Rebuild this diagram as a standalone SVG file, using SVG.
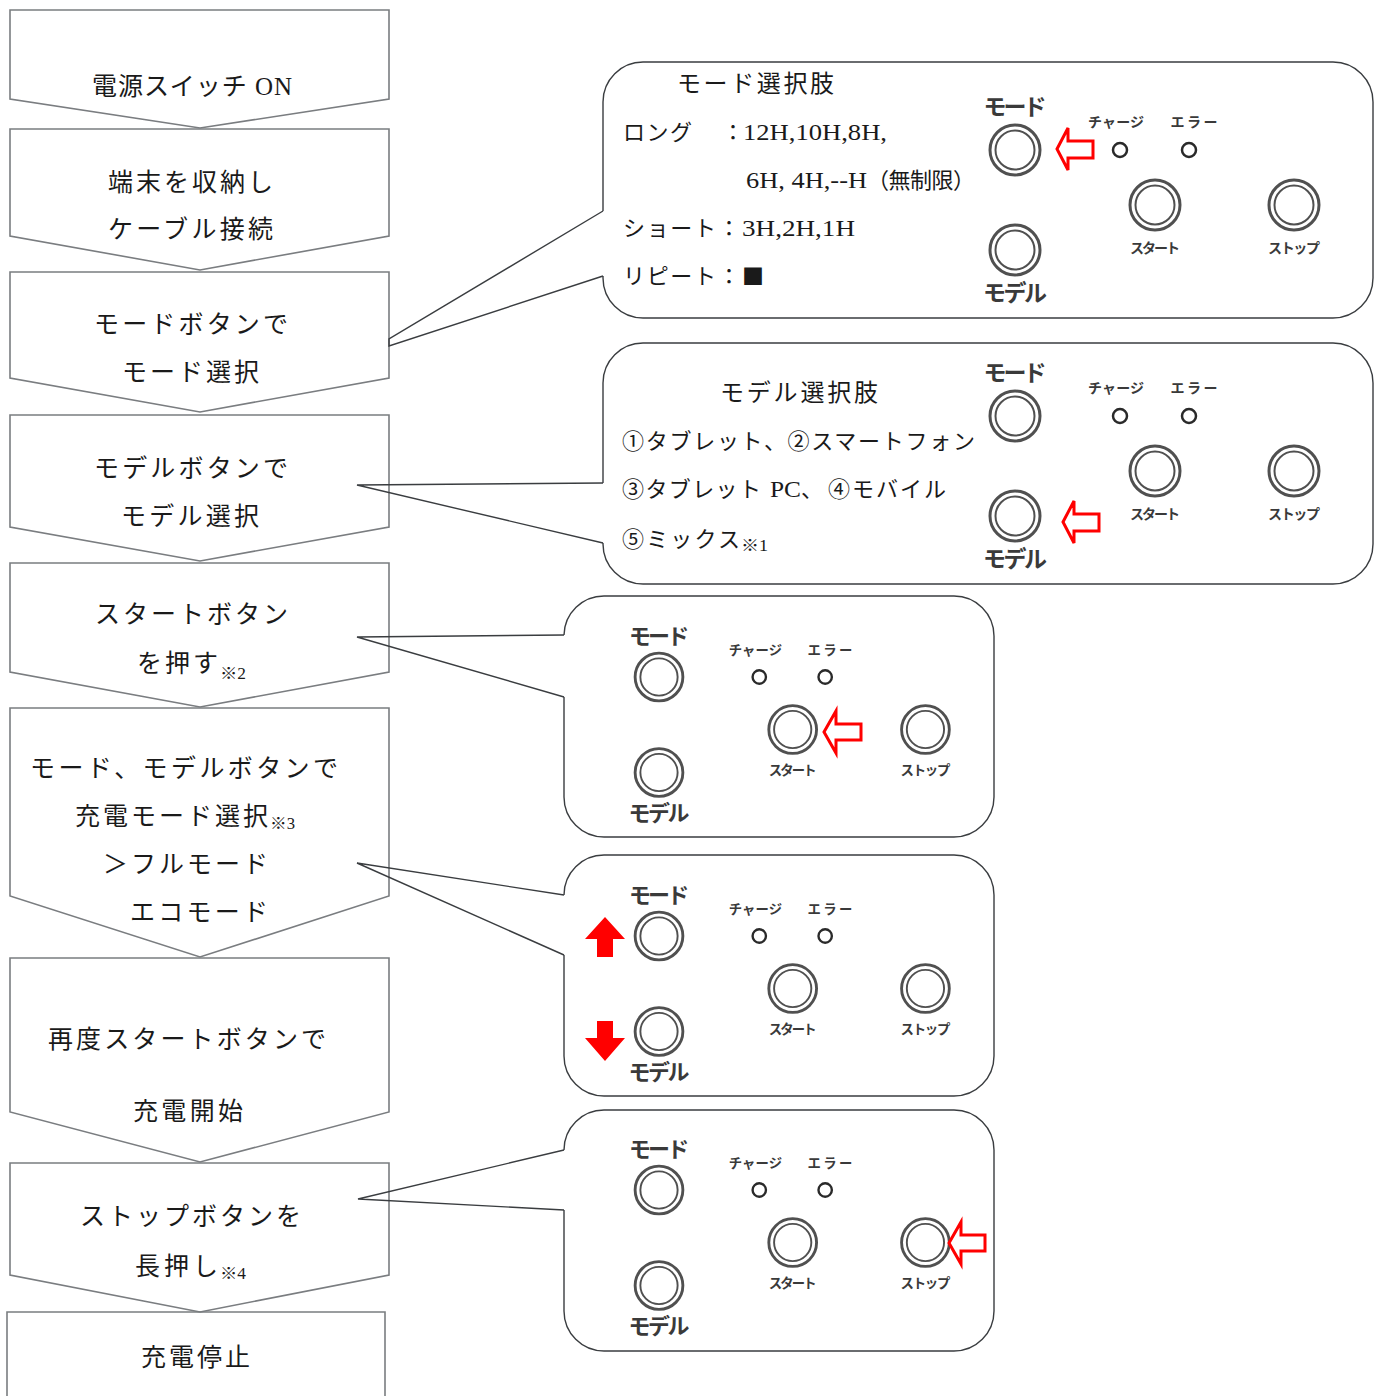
<svg xmlns="http://www.w3.org/2000/svg" width="1374" height="1396" viewBox="0 0 1374 1396">
<style>
.step{fill:none;stroke:#7a7d80;stroke-width:1.6}
.co{fill:none;stroke:#3a3d40;stroke-width:1.4}
.t{font-family:"Liberation Serif","Noto Sans CJK JP",serif;font-size:25px;fill:#1a1a1a}
.c{font-family:"Liberation Serif","Noto Sans CJK JP",serif;font-size:22px;fill:#1a1a1a}
.ct{font-size:24px}
.sub{font-size:16px}
.lat{font-size:24px}
.sq{font-family:"Noto Sans CJK JP",sans-serif;font-size:22px}
.pl{font-family:"Noto Sans CJK JP",sans-serif;font-weight:700;font-size:23px;fill:#3a3a3a;text-anchor:middle}
.ps{font-family:"Noto Sans CJK JP",sans-serif;font-weight:700;font-size:14px;fill:#3a3a3a;text-anchor:middle}
.ro{fill:none;stroke:#505050;stroke-width:3}
.ri{fill:none;stroke:#505050;stroke-width:2}
.led{fill:none;stroke:#2a2a2a;stroke-width:2.5}
.ra{fill:#fff;stroke:#f00;stroke-width:3}
.rs{fill:#f00;stroke:none}
</style>

<!-- Step nodes -->
<g id="step1"><polygon class="step" points="10,10 389,10 389,99 200,128 10,99"/>
<text class="t" x="92" y="95" textLength="200">電源スイッチ ON</text></g>
<g id="step2"><polygon class="step" points="10,129 389,129 389,236 200,270 10,236"/>
<text class="t" x="108" y="191" textLength="165">端末を収納し</text>
<text class="t" x="108" y="238" textLength="165">ケーブル接続</text></g>
<g id="step3"><polygon class="step" points="10,272 389,272 389,378 200,412 10,378"/>
<text class="t" x="94" y="333" textLength="194">モードボタンで</text>
<text class="t" x="122" y="381" textLength="137">モード選択</text></g>
<g id="step4"><polygon class="step" points="10,415 389,415 389,527 200,561 10,527"/>
<text class="t" x="94" y="477" textLength="194">モデルボタンで</text>
<text class="t" x="121" y="525" textLength="138">モデル選択</text></g>
<g id="step5"><polygon class="step" points="10,563 389,563 389,672 200,707 10,672"/>
<text class="t" x="95" y="623" textLength="193">スタートボタン</text>
<text class="t" x="137" y="672" textLength="81">を押す</text>
<text class="t sub" x="220" y="679" textLength="26" lengthAdjust="spacingAndGlyphs">※2</text></g>
<g id="step6"><polygon class="step" points="10,708 389,708 389,896 200,957 10,896"/>
<text class="t" x="30" y="777" textLength="308">モード、モデルボタンで</text>
<text class="t" x="75" y="825" textLength="193">充電モード選択</text>
<text class="t sub" x="270" y="829" textLength="25" lengthAdjust="spacingAndGlyphs">※3</text>
<text class="t" x="103" y="873" textLength="165">＞フルモード</text>
<text class="t" x="130" y="921" textLength="138">エコモード</text></g>
<g id="step7"><polygon class="step" points="10,958 389,958 389,1112 200,1162 10,1112"/>
<text class="t" x="48" y="1048" textLength="278">再度スタートボタンで</text>
<text class="t" x="133" y="1120" textLength="110">充電開始</text></g>
<g id="step8"><polygon class="step" points="10,1163 389,1163 389,1275 200,1312 10,1275"/>
<text class="t" x="80" y="1225" textLength="221">ストップボタンを</text>
<text class="t" x="135" y="1275" textLength="83">長押し</text>
<text class="t sub" x="220" y="1279" textLength="26" lengthAdjust="spacingAndGlyphs">※4</text></g>
<g id="step9"><polyline class="step" points="7,1400 7,1312 385,1312 385,1400"/>
<text class="t" x="141" y="1366" textLength="109">充電停止</text></g>

<!-- Callout bodies -->
<g id="callout-mode">
<path class="co" d="M603,211 L603,102 A40,40 0 0 1 643,62 L1333,62 A40,40 0 0 1 1373,102 L1373,278 A40,40 0 0 1 1333,318 L643,318 A40,40 0 0 1 603,278 L603,276"/>
<text class="c ct" x="677" y="92" textLength="157">モード選択肢</text>
<text class="c" x="623" y="140" textLength="69">ロング</text>
<text class="c" x="722" y="140">：</text>
<text class="c lat" x="743" y="140" textLength="144" lengthAdjust="spacingAndGlyphs">12H,10H,8H,</text>
<text class="c lat" x="746" y="188" textLength="121" lengthAdjust="spacingAndGlyphs">6H, 4H,--H</text>
<text class="c" x="867" y="188" textLength="108">（無制限）</text>
<text class="c" x="623" y="236" textLength="93">ショート</text>
<text class="c" x="718" y="236">：</text>
<text class="c lat" x="742" y="236" textLength="113" lengthAdjust="spacingAndGlyphs">3H,2H,1H</text>
<text class="c" x="623" y="284" textLength="93">リピート</text>
<text class="c" x="718" y="284">：</text>
<text class="c sq" x="742" y="284">■</text>
</g>
<g id="callout-model">
<path class="co" d="M603,483 L603,383 A40,40 0 0 1 643,343 L1333,343 A40,40 0 0 1 1373,383 L1373,544 A40,40 0 0 1 1333,584 L643,584 A40,40 0 0 1 603,544 L603,543"/>
<text class="c ct" x="720" y="401" textLength="158">モデル選択肢</text>
<text class="c" x="622" y="449" textLength="353">①タブレット、②スマートフォン</text>
<text class="c" x="622" y="497" textLength="139">③タブレット</text>
<text class="c lat" x="770" y="497" textLength="31" lengthAdjust="spacingAndGlyphs">PC</text>
<text class="c" x="801" y="497">、</text>
<text class="c" x="828" y="497" textLength="118">④モバイル</text>
<text class="c" x="622" y="547" textLength="118">⑤ミックス</text>
<text class="c sub" x="741" y="551" textLength="27" lengthAdjust="spacingAndGlyphs">※1</text>
</g>
<g id="callout-start">
<path class="co" d="M564,635 A40,40 0 0 1 604,596 L954,596 A40,40 0 0 1 994,636 L994,797 A40,40 0 0 1 954,837 L604,837 A40,40 0 0 1 564,797 L564,697"/>
</g>
<g id="callout-select">
<path class="co" d="M564,895 A40,40 0 0 1 604,855 L954,855 A40,40 0 0 1 994,895 L994,1056 A40,40 0 0 1 954,1096 L604,1096 A40,40 0 0 1 564,1056 L564,955"/>
</g>
<g id="callout-stop">
<path class="co" d="M564,1150 A40,40 0 0 1 604,1110 L954,1110 A40,40 0 0 1 994,1150 L994,1311 A40,40 0 0 1 954,1351 L604,1351 A40,40 0 0 1 564,1311 L564,1210"/>
</g>

<!-- Connectors (callout tails) -->
<g id="connectors">
<polyline class="co" points="603,211 389,339 389,346 603,276"/>
<polyline class="co" points="603,483 357,485 603,543"/>
<polyline class="co" points="564,635 357,637 564,697"/>
<polyline class="co" points="564,895 357,863 564,955"/>
<polyline class="co" points="564,1150 358,1199 564,1210"/>
</g>

<!-- Control panels -->
<g id="panel1" transform="translate(1015,150)">
<text class="pl" x="0" y="-35" textLength="63">モード</text>
<circle class="ro" r="25"/><circle class="ri" r="19.5"/>
<circle class="ro" cy="100" r="25"/><circle class="ri" cy="100" r="19.5"/>
<text class="pl" x="0" y="151" textLength="64">モデル</text>
<text class="ps" x="101" y="-23" textLength="56">チャージ</text>
<text class="ps" x="179" y="-23" textLength="47">エラー</text>
<circle class="led" cx="105" r="7"/><circle class="led" cx="174" r="7"/>
<circle class="ro" cx="140" cy="55" r="25"/><circle class="ri" cx="140" cy="55" r="19.5"/>
<text class="ps" x="140" y="103" textLength="50">スタート</text>
<circle class="ro" cx="279" cy="55" r="25"/><circle class="ri" cx="279" cy="55" r="19.5"/>
<text class="ps" x="279" y="103" textLength="52">ストップ</text>
</g>
<g id="panel2" transform="translate(1015,416)">
<text class="pl" x="0" y="-35" textLength="63">モード</text>
<circle class="ro" r="25"/><circle class="ri" r="19.5"/>
<circle class="ro" cy="100" r="25"/><circle class="ri" cy="100" r="19.5"/>
<text class="pl" x="0" y="151" textLength="64">モデル</text>
<text class="ps" x="101" y="-23" textLength="56">チャージ</text>
<text class="ps" x="179" y="-23" textLength="47">エラー</text>
<circle class="led" cx="105" r="7"/><circle class="led" cx="174" r="7"/>
<circle class="ro" cx="140" cy="55" r="25"/><circle class="ri" cx="140" cy="55" r="19.5"/>
<text class="ps" x="140" y="103" textLength="50">スタート</text>
<circle class="ro" cx="279" cy="55" r="25"/><circle class="ri" cx="279" cy="55" r="19.5"/>
<text class="ps" x="279" y="103" textLength="52">ストップ</text>
</g>
<g id="panel3" transform="translate(659,677) scale(0.955)">
<text class="pl" x="0" y="-35" textLength="63">モード</text>
<circle class="ro" r="25"/><circle class="ri" r="19.5"/>
<circle class="ro" cy="100" r="25"/><circle class="ri" cy="100" r="19.5"/>
<text class="pl" x="0" y="151" textLength="64">モデル</text>
<text class="ps" x="101" y="-23" textLength="56">チャージ</text>
<text class="ps" x="179" y="-23" textLength="47">エラー</text>
<circle class="led" cx="105" r="7"/><circle class="led" cx="174" r="7"/>
<circle class="ro" cx="140" cy="55" r="25"/><circle class="ri" cx="140" cy="55" r="19.5"/>
<text class="ps" x="140" y="103" textLength="50">スタート</text>
<circle class="ro" cx="279" cy="55" r="25"/><circle class="ri" cx="279" cy="55" r="19.5"/>
<text class="ps" x="279" y="103" textLength="52">ストップ</text>
</g>
<g id="panel4" transform="translate(659,936) scale(0.955)">
<text class="pl" x="0" y="-35" textLength="63">モード</text>
<circle class="ro" r="25"/><circle class="ri" r="19.5"/>
<circle class="ro" cy="100" r="25"/><circle class="ri" cy="100" r="19.5"/>
<text class="pl" x="0" y="151" textLength="64">モデル</text>
<text class="ps" x="101" y="-23" textLength="56">チャージ</text>
<text class="ps" x="179" y="-23" textLength="47">エラー</text>
<circle class="led" cx="105" r="7"/><circle class="led" cx="174" r="7"/>
<circle class="ro" cx="140" cy="55" r="25"/><circle class="ri" cx="140" cy="55" r="19.5"/>
<text class="ps" x="140" y="103" textLength="50">スタート</text>
<circle class="ro" cx="279" cy="55" r="25"/><circle class="ri" cx="279" cy="55" r="19.5"/>
<text class="ps" x="279" y="103" textLength="52">ストップ</text>
</g>
<g id="panel5" transform="translate(659,1190) scale(0.955)">
<text class="pl" x="0" y="-35" textLength="63">モード</text>
<circle class="ro" r="25"/><circle class="ri" r="19.5"/>
<circle class="ro" cy="100" r="25"/><circle class="ri" cy="100" r="19.5"/>
<text class="pl" x="0" y="151" textLength="64">モデル</text>
<text class="ps" x="101" y="-23" textLength="56">チャージ</text>
<text class="ps" x="179" y="-23" textLength="47">エラー</text>
<circle class="led" cx="105" r="7"/><circle class="led" cx="174" r="7"/>
<circle class="ro" cx="140" cy="55" r="25"/><circle class="ri" cx="140" cy="55" r="19.5"/>
<text class="ps" x="140" y="103" textLength="50">スタート</text>
<circle class="ro" cx="279" cy="55" r="25"/><circle class="ri" cx="279" cy="55" r="19.5"/>
<text class="ps" x="279" y="103" textLength="52">ストップ</text>
</g>

<!-- Red indicator arrows -->
<g id="red-arrows">
<path class="ra" d="M1057,149 L1068,128 L1068,141 L1093,141 L1093,158 L1068,158 L1068,170 Z"/>
<path class="ra" d="M1063,522 L1074,501 L1074,514 L1099,514 L1099,531 L1074,531 L1074,543 Z"/>
<path class="ra" d="M824,732 L836,711 L836,724 L861,724 L861,740 L836,740 L836,753 Z"/>
<path class="ra" d="M949,1243 L961,1222 L961,1235 L985,1235 L985,1251 L961,1251 L961,1264 Z"/>
<path class="rs" d="M605,917 L625,939 L613,939 L613,957 L597,957 L597,939 L585,939 Z"/>
<path class="rs" d="M597,1021 L613,1021 L613,1038 L625,1038 L605,1061 L585,1038 L597,1038 Z"/>
</g>
</svg>
